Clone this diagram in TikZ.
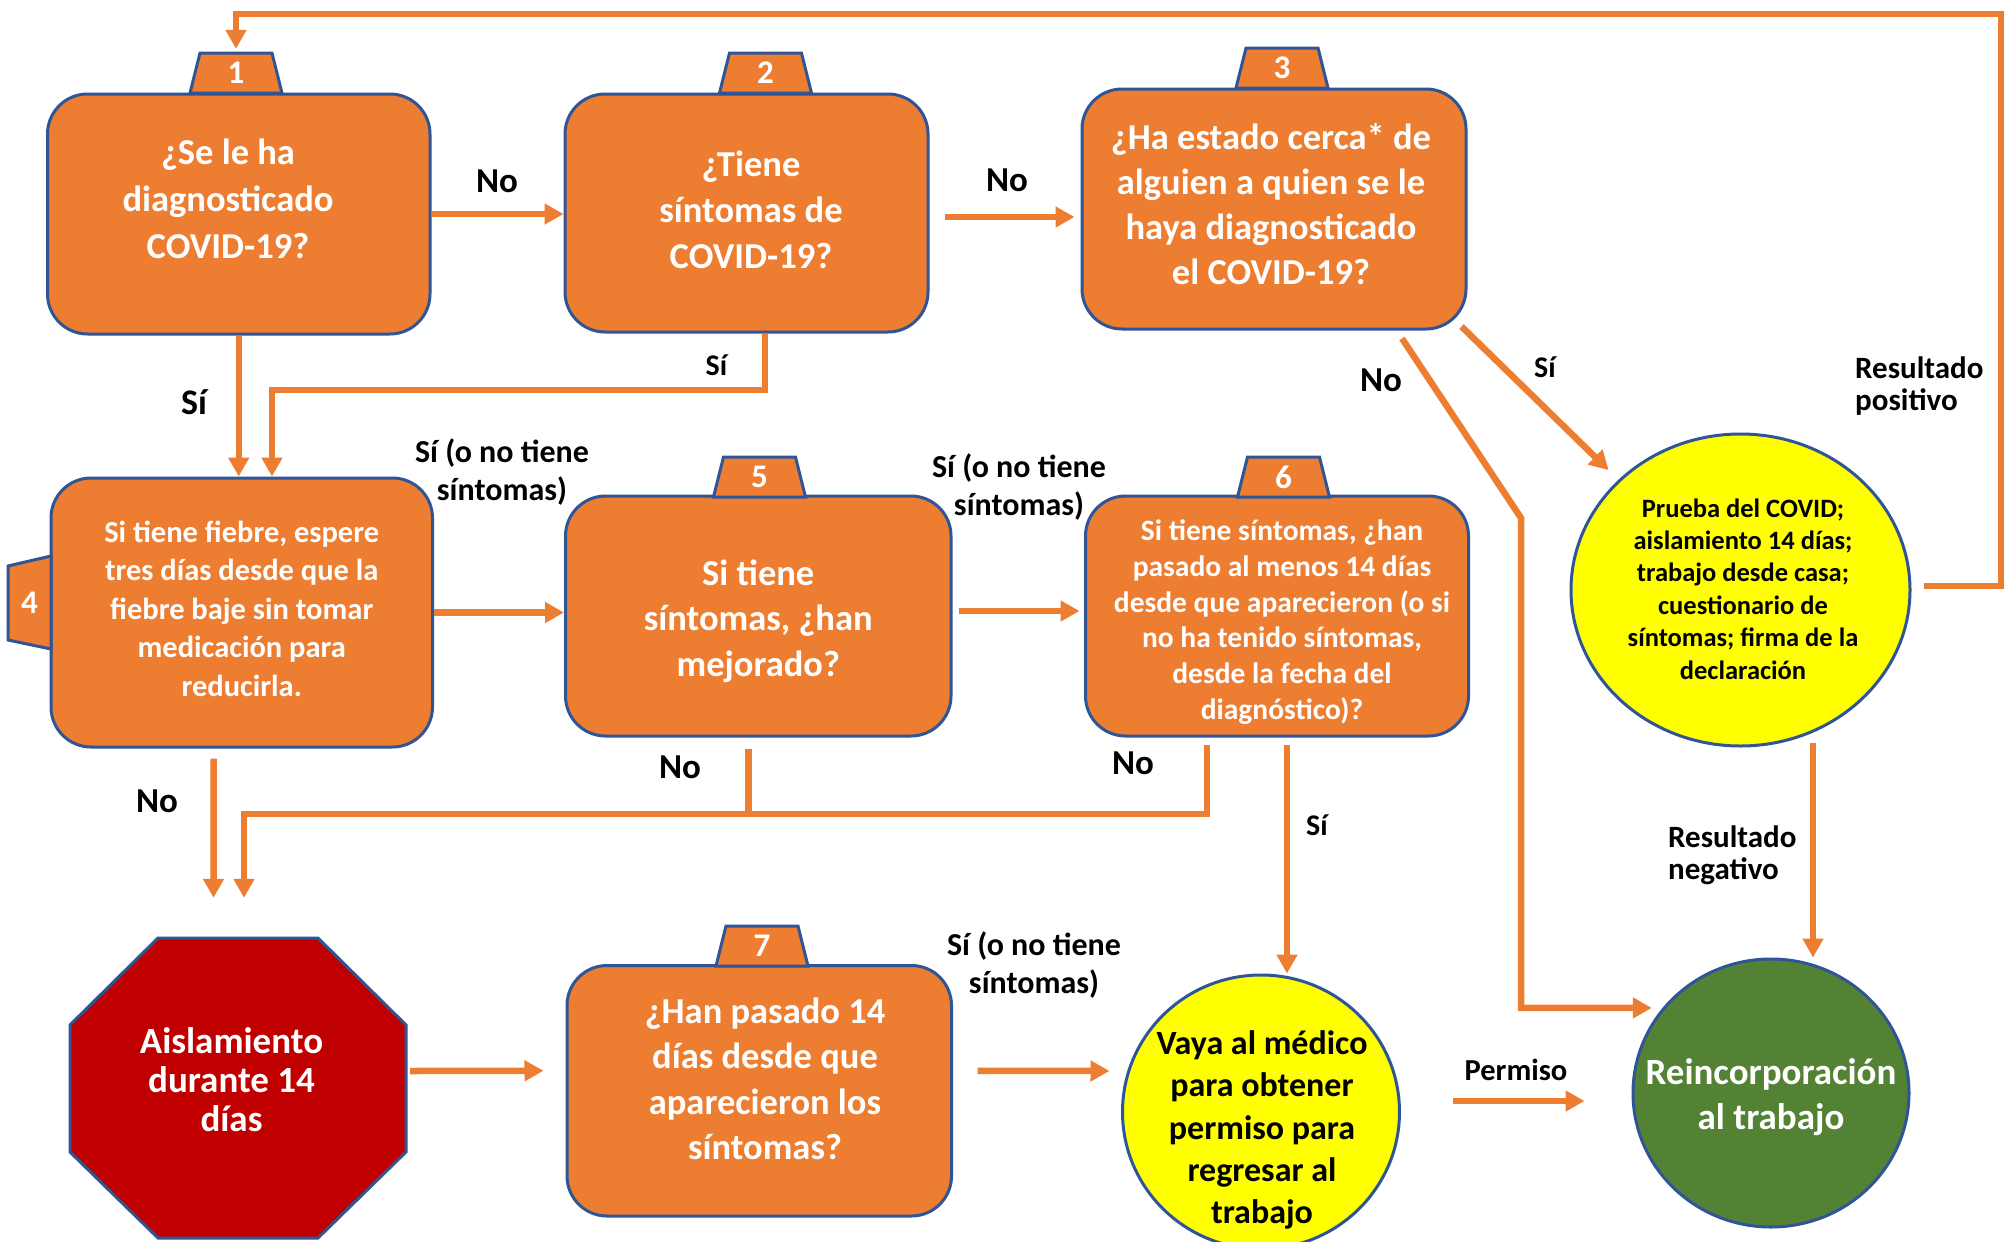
\documentclass[tikz,border=0pt]{standalone}
\usepackage{fontspec}
\setmainfont{Carlito}
\usetikzlibrary{arrows.meta,calc,shapes.geometric}
\definecolor{orng}{HTML}{ED7D31}
\definecolor{bdr}{HTML}{2F5597}
\definecolor{redo}{HTML}{C00000}
\definecolor{grn}{HTML}{548235}
\definecolor{ylw}{HTML}{FFFF00}
\newcommand\boxtxt[3]{\smash{\makebox[0pt]{\kern#1\kern#1\makebox[0pt]{\raisebox{#2}{\begin{tabular}{@{}c@{}}#3\end{tabular}}}}}}
\newcommand\fsz[2]{\fontsize{#1}{#2}\selectfont}
\newcommand\toptab[4]{%
  \path[tabst] (#2-46,#3) -- (#2-36,#3-40) -- (#2+36,#3-40) -- (#2+46,#3) -- cycle;
  \node[tabnum, minimum width=72pt, minimum height=40pt] (#1) at (#2,#3-20) {#4};}
\begin{document}
\begin{tikzpicture}[x=1pt,y=-1pt,
  qbox/.style={draw=bdr, line width=3pt, fill=orng, rounded corners=40pt, inner sep=0pt, text=white, font=\bfseries\fsz{36.5}{46}},
  tabst/.style={draw=bdr, line width=3pt, fill=orng, line join=miter},
  tabnum/.style={inner sep=0pt, text=white, font=\bfseries\fsz{33}{40}},
  oval/.style={ellipse, draw=bdr, line width=3pt, inner sep=0pt},
  arr/.style={draw=orng, line width=6.5pt, -{Triangle[length=19pt,width=20pt]}},
  conn/.style={draw=orng, line width=6.5pt},
  lab/.style={inner sep=0pt, text=black, font=\bfseries\fsz{35}{40}},
  labsi/.style={inner sep=0pt, text=black, font=\bfseries\fsz{30}{36}},
  lab2/.style={inner sep=0pt, text=black, align=center, font=\bfseries\fsz{32}{38.5}},
  lab3/.style={inner sep=0pt, text=black, align=left, font=\bfseries\fsz{31}{32}},
]
\fill[white] (0,0) rectangle (2013,1242);
\useasboundingbox (0,0) rectangle (2013,1242);

% boxes
\node[qbox, font=\bfseries\fsz{36.5}{47}, minimum width=382.5pt, minimum height=240pt] (b1) at (238.75,214)
  {\boxtxt{-10.75pt}{5.5pt}{¿Se le ha\\diagnosticado\\COVID-19?}};
\node[qbox, minimum width=363pt, minimum height=238pt] (b2) at (746.5,213)
  {\boxtxt{4.5pt}{-7pt}{¿Tiene\\síntomas de\\COVID-19?}};
\node[qbox, font=\bfseries\fsz{36.5}{45}, minimum width=384pt, minimum height=240pt] (b3) at (1274,209)
  {\boxtxt{-3pt}{-4.8pt}{¿Ha estado cerca* de\\alguien a quien se le\\haya diagnosticado\\el COVID-19?}};
\node[qbox, font=\bfseries\fsz{30.5}{38.5}, minimum width=381.5pt, minimum height=269pt] (b4) at (241.75,612.5)
  {\boxtxt{0pt}{-5.3pt}{Si tiene fiebre, espere\\tres días desde que la\\fiebre baje sin tomar\\medicación para\\reducirla.}};
\node[qbox, font=\bfseries\fsz{36.5}{45.5}, minimum width=385.5pt, minimum height=240pt] (b5) at (758.25,616)
  {\boxtxt{0pt}{-12pt}{Si tiene\\síntomas, ¿han\\mejorado?}};
\node[qbox, font=\bfseries\fsz{29.5}{35.8}, minimum width=383pt, minimum height=240pt] (b6) at (1277,616)
  {\boxtxt{5pt}{-13pt}{Si tiene síntomas, ¿han\\pasado al menos 14 días\\desde que aparecieron (o si\\no ha tenido síntomas,\\desde la fecha del\\diagnóstico)?}};
\node[qbox, font=\bfseries\fsz{36.5}{45.5}, minimum width=384.5pt, minimum height=250.5pt] (b7) at (759.25,1090.75)
  {\boxtxt{5.75pt}{2pt}{¿Han pasado 14\\días desde que\\aparecieron los\\síntomas?}};

% octagon
\path[draw=bdr, line width=3pt, fill=redo] (158,938) -- (318,938) -- (406,1025) -- (406,1152) -- (318,1238) -- (158,1238) -- (70,1152) -- (70,1025) -- cycle;
\node[inner sep=0pt, minimum width=336pt, minimum height=300pt, text=white, font=\bfseries\fsz{37}{39}] (oct) at (238,1088)
  {\boxtxt{-6.5pt}{-3pt}{Aislamiento\\durante 14\\días}};

% ellipses
\node[oval, fill=ylw, minimum width=339pt, minimum height=312pt, font=\bfseries\fsz{26.5}{32.4}] (pr) at (1740.5,590)
  {\boxtxt{2.5pt}{-7.8pt}{Prueba del COVID;\\aislamiento 14 días;\\trabajo desde casa;\\cuestionario de\\síntomas; firma de la\\declaración}};
\node[oval, fill=ylw, minimum width=277pt, minimum height=274pt, font=\bfseries\fsz{34}{42.3}] (vy) at (1261,1112)
  {\boxtxt{1pt}{-25pt}{Vaya al médico\\para obtener\\permiso para\\regresar al\\trabajo}};
\node[oval, fill=grn, text=white, minimum width=276pt, minimum height=268pt, font=\bfseries\fsz{37}{45}] (gr) at (1771,1093)
  {\boxtxt{0pt}{-11.25pt}{Reincorporación\\al trabajo}};

% tabs
\toptab{t1}{236}{93}{1}
\toptab{t2}{765.5}{93}{2}
\toptab{t3}{1282}{88}{3}
\toptab{t5}{759.5}{497}{5}
\toptab{t6}{1283.5}{497}{6}
\toptab{t7}{762}{966}{7}
\path[tabst] (51,556) -- (8,566) -- (8,640) -- (51,649) -- cycle;
\node[tabnum, minimum width=43pt, minimum height=74pt] (t4) at (29.5,602.5) {4};

% labels
\node[lab] (n12) at (497,181) {No};
\node[lab] (n23) at (1007,180) {No};
\node[lab, font=\bfseries\fsz{36}{40}] (s14) at (194,402) {Sí};
\node[labsi] (s24) at (716.5,365) {Sí};
\node[lab] (n3) at (1381,380) {No};
\node[labsi] (s3) at (1545,367) {Sí};
\node[lab3, anchor=west] (rp) at (1855,386) {Resultado\\positivo};
\node[lab2] (s45) at (502,472) {Sí (o no tiene\\síntomas)};
\node[lab2] (s56) at (1019,487) {Sí (o no tiene\\síntomas)};
\node[lab] (n4) at (157,801) {No};
\node[lab] (n5) at (680,767) {No};
\node[lab] (n6) at (1133,763) {No};
\node[labsi] (s6l) at (1317,825) {Sí};
\node[lab3, anchor=west] (rn) at (1668,855) {Resultado\\negativo};
\node[lab2] (s7v) at (1034,965) {Sí (o no tiene\\síntomas)};
\node[lab, font=\bfseries\fsz{30.5}{36}] (pm) at (1516,1070) {Permiso};

% connectors
\coordinate (j24) at (272,390);
\coordinate (jn) at (244,814);
\coordinate (k3) at (1521,518);
\coordinate (fbR) at (2001,14);
\coordinate (s2) at ($(b2.south)+(18.5,0)$);
\coordinate (s5) at ($(b5.south)+(-10,11)$);
\coordinate (s6n) at ($(b6.south)+(-70,7)$);
\coordinate (s6) at ($(b6.south)+(10,7)$);
\coordinate (s7) at ($(pr.south)+(72.5,-5)$);

\draw[arr] (b1.east) -- (b1.east -| b2.west);
\draw[arr] ($(b2.east)+(15,4)$) -- ($(b3.west)+(-6,8)$);
\draw[arr] (b1.south) -- (b1.south |- b4.north);
\draw[arr] (s2) |- (j24) -- (j24 |- b4.north);
\draw[arr] ($(b3.south east)+(-6,-4)$) -- ($(pr.135)+(-16,-4)$);
\draw[arr] ($(b3.south)+(128,8)$) -- (k3) |- ($(gr.143)+(-9,-2)$);
\draw[arr] ($(pr.east)+(12,-4)$) -| (fbR) -| ($(t1.north)+(0,-4)$);
\draw[arr] (b4.east) -- (b4.east -| b5.west);
\draw[arr] ($(b5.east)+(6,-5)$) -- ($(b6.west)+(-4.5,-5)$);
\draw[arr] ($(b4.south)+(-28,10)$) -- ($(oct.north)+(-24.5,-40)$);
\draw[conn] (s5) -- (s5 |- jn);
\draw[arr] (s6n) |- (jn) -- ($(oct.north)+(6,-40)$);
\draw[arr] (s6) -- (s6 |- vy.north);
\draw[arr] ($(oct.east)+(4,-17)$) -- ($(b7.west)+(-22,-20)$);
\draw[arr] ($(b7.east)+(24.5,-20)$) -- ($(vy.west)+(-11.5,-41)$);
\draw[arr] ($(vy.east)+(52,-11)$) -- ($(gr.west)+(-47,8)$);
\draw[arr] (s7) -- (s7 |- gr.north);
\end{tikzpicture}
\end{document}
